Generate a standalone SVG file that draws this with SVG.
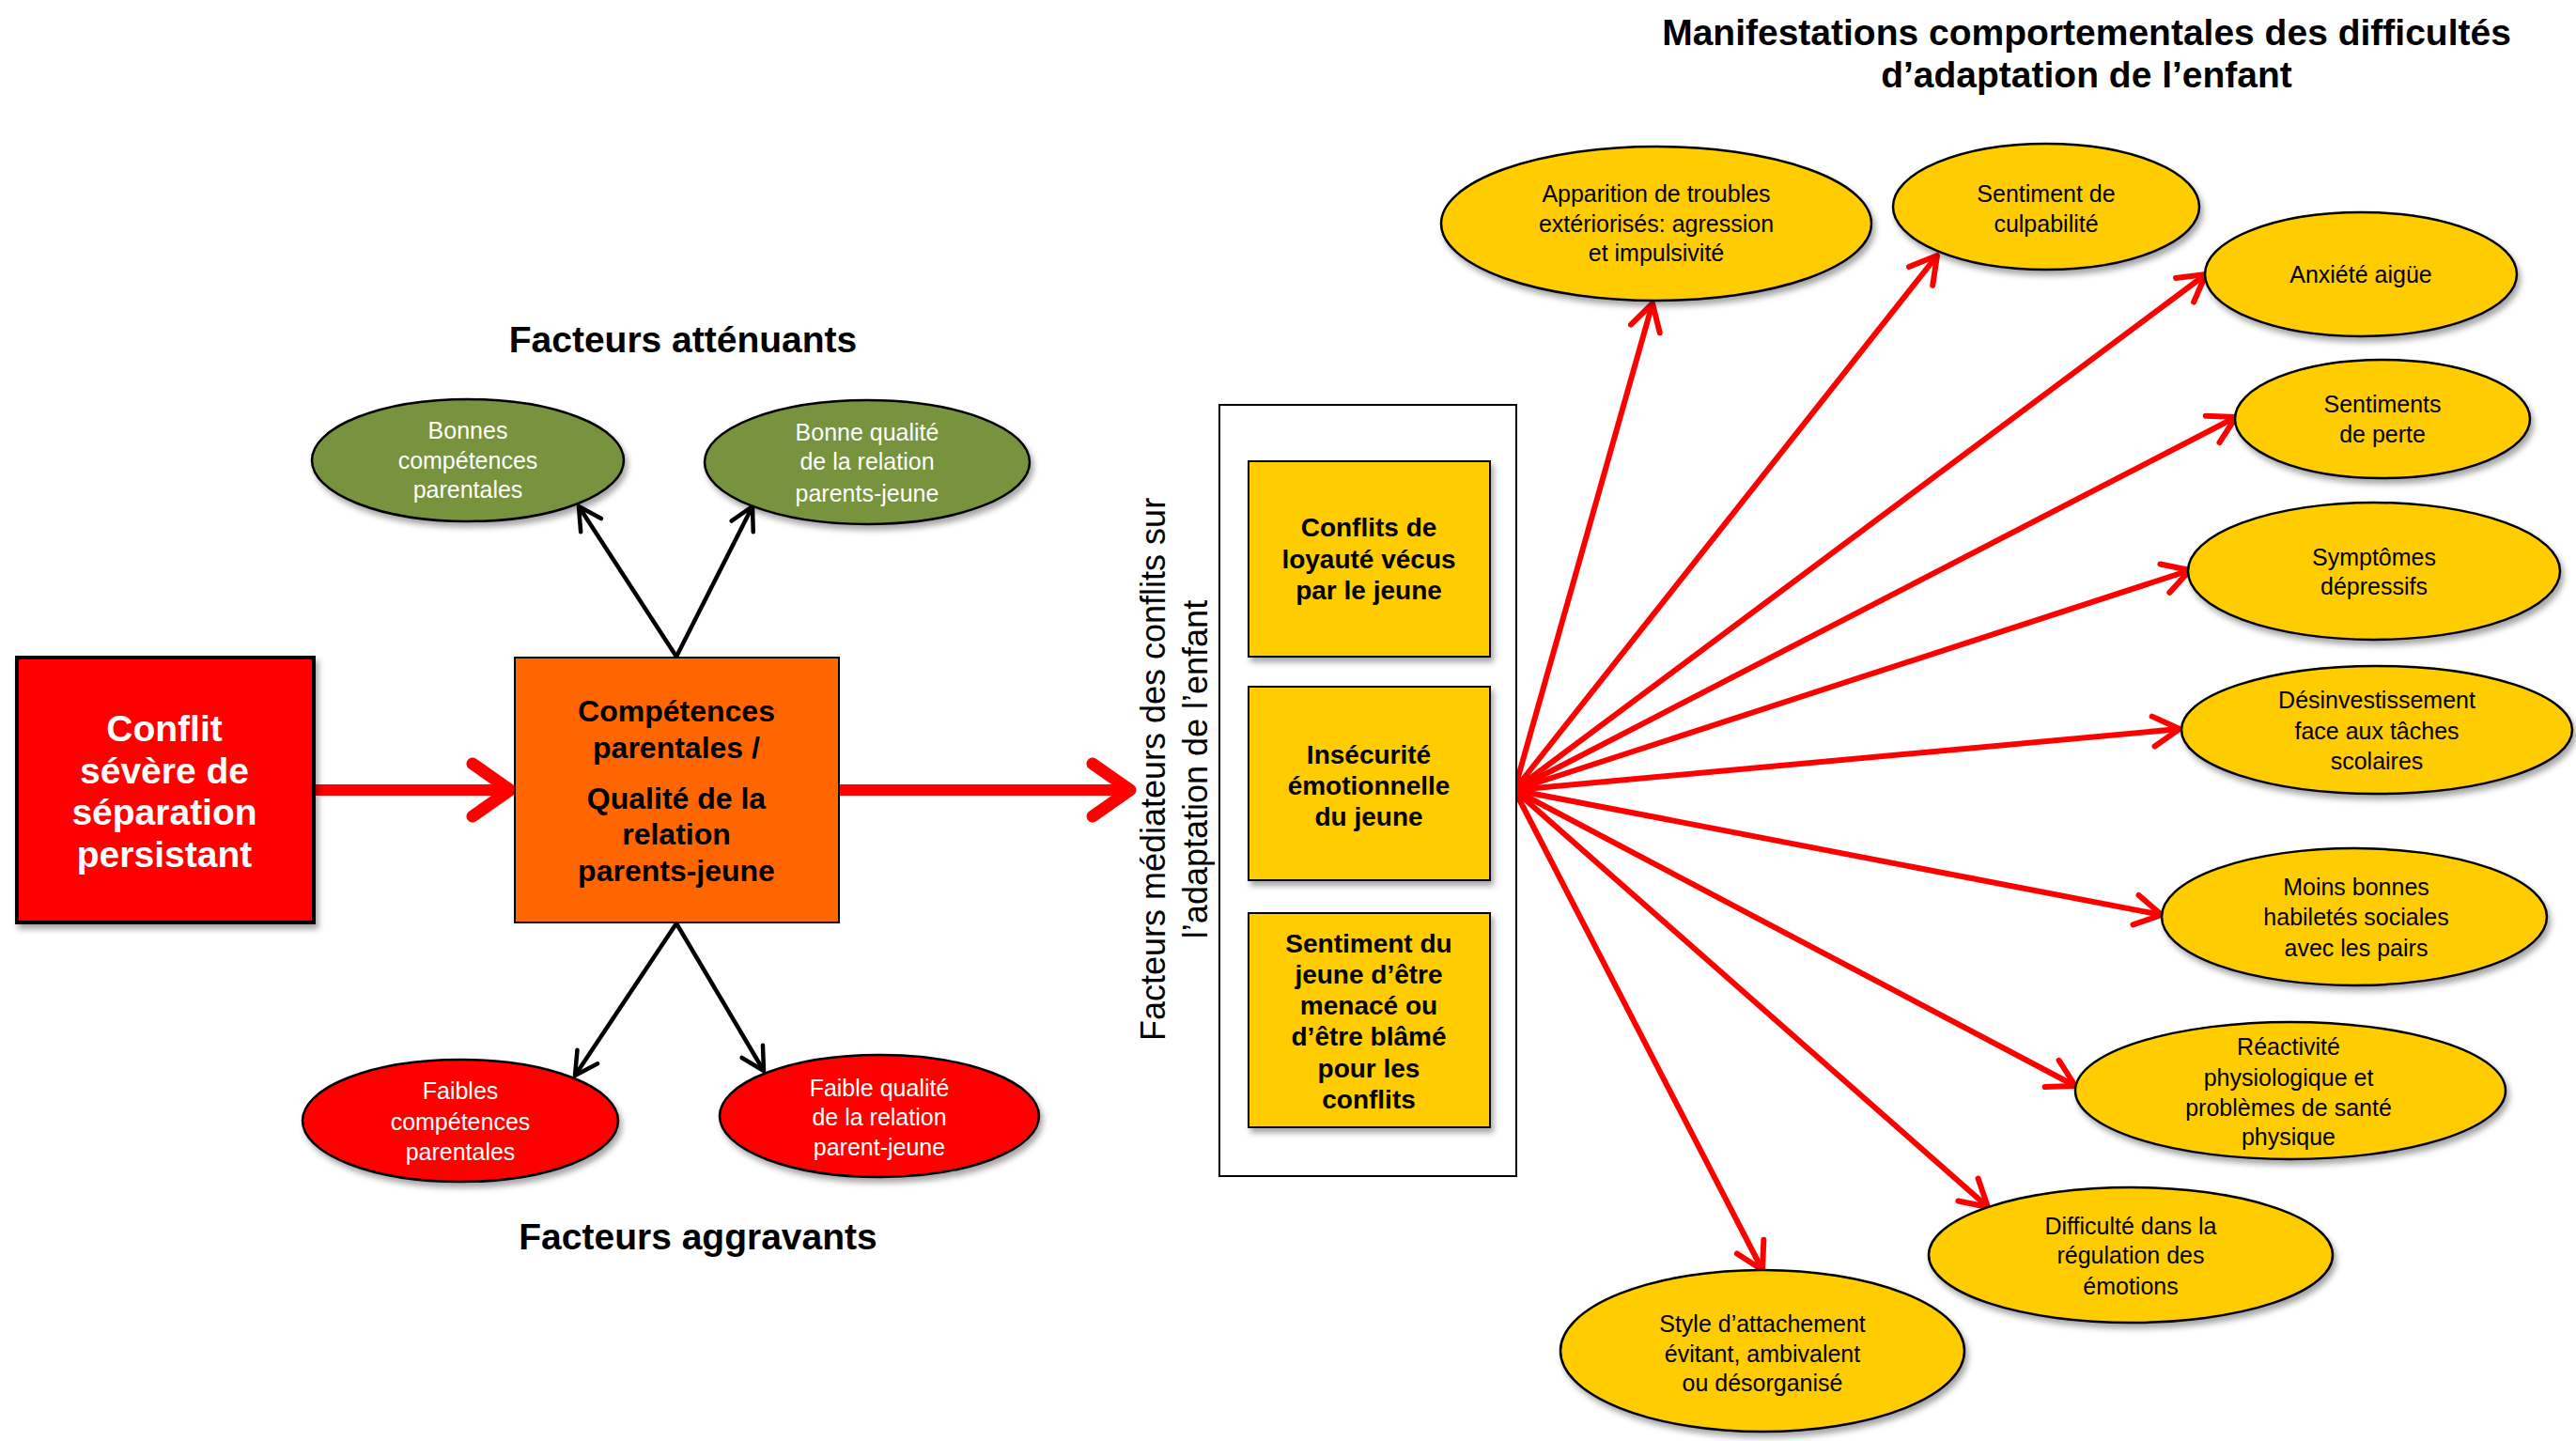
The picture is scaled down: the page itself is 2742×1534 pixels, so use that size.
<svg xmlns="http://www.w3.org/2000/svg" width="2742" height="1534" viewBox="0 0 2742 1534">
<defs>
<filter id="sh" x="-20%" y="-20%" width="140%" height="140%">
<feDropShadow dx="3" dy="5" stdDeviation="3" flood-color="#000" flood-opacity="0.35"/>
</filter>
<marker id="ahBig" markerUnits="userSpaceOnUse" markerWidth="80" markerHeight="80" viewBox="-60 -40 80 80" refX="0" refY="0" orient="auto" overflow="visible">
<path d="M-40,-28 L0,0 L-40,28" fill="none" stroke="#FF0000" stroke-width="13" stroke-linecap="round" stroke-linejoin="round"/>
</marker>
<marker id="ahRed" markerUnits="userSpaceOnUse" markerWidth="60" markerHeight="60" viewBox="-40 -30 60 60" refX="0" refY="0" orient="auto" overflow="visible">
<path d="M-28,-16 L0,0 L-28,16" fill="none" stroke="#FF0000" stroke-width="6" stroke-linecap="round" stroke-linejoin="round"/>
</marker>
<marker id="ahBlack" markerUnits="userSpaceOnUse" markerWidth="60" markerHeight="60" viewBox="-40 -30 60 60" refX="0" refY="0" orient="auto" overflow="visible">
<path d="M-24,-13 L0,0 L-24,13" fill="none" stroke="#000" stroke-width="4.5" stroke-linecap="round" stroke-linejoin="round"/>
</marker>
</defs>
<style>
text{font-family:"Liberation Sans",Arial,sans-serif;text-anchor:middle;}
.h{font-size:39px;font-weight:bold;fill:#000;}
.e{font-size:25px;fill:#000;}
.ew{font-size:25px;fill:#fff;}
.yb{font-size:28px;font-weight:bold;fill:#000;}
.ye{fill:#FFCC00;stroke:#000;stroke-width:2.5;}
.fan{stroke:#FF0000;stroke-width:6;fill:none;marker-end:url(#ahRed);}
.blk{stroke:#000;stroke-width:4.5;fill:none;marker-end:url(#ahBlack);}
.big{stroke:#FF0000;stroke-width:12;fill:none;marker-end:url(#ahBig);}
</style>
<rect width="2742" height="1534" fill="#fff"/>

<g id="titles">
<text class="h" x="2221" y="48">Manifestations comportementales des difficultés</text>
<text class="h" x="2221" y="93">d’adaptation de l’enfant</text>
<text class="h" x="727" y="375">Facteurs atténuants</text>
<text class="h" x="743" y="1330">Facteurs aggravants</text>
</g>

<g id="connectors">
<line class="big" x1="334" y1="841" x2="543" y2="841"/>
<line class="big" x1="894" y1="841" x2="1203" y2="841"/>
<line class="blk" x1="720" y1="699" x2="616" y2="539"/>
<line class="blk" x1="720" y1="699" x2="801" y2="539"/>
<line class="blk" x1="720" y1="983" x2="612" y2="1145"/>
<line class="blk" x1="720" y1="983" x2="813" y2="1140"/>
<line class="fan" x1="1612" y1="841" x2="1759" y2="323"/>
<line class="fan" x1="1612" y1="841" x2="2062" y2="272"/>
<line class="fan" x1="1612" y1="841" x2="2348" y2="292"/>
<line class="fan" x1="1612" y1="841" x2="2380" y2="444"/>
<line class="fan" x1="1612" y1="841" x2="2331" y2="607"/>
<line class="fan" x1="1612" y1="841" x2="2320" y2="776"/>
<line class="fan" x1="1612" y1="841" x2="2301" y2="974"/>
<line class="fan" x1="1612" y1="841" x2="2209" y2="1156"/>
<line class="fan" x1="1612" y1="841" x2="2116" y2="1285"/>
<line class="fan" x1="1612" y1="841" x2="1876" y2="1352"/>
</g>

<g id="conflit">
<rect x="18" y="700" width="316" height="282" fill="#FF0000" stroke="#000" stroke-width="4" filter="url(#sh)"/>
<text font-size="39" font-weight="bold" fill="#fff"><tspan x="175" y="789">Conflit</tspan><tspan x="175" y="834">sévère de</tspan><tspan x="175" y="878">séparation</tspan><tspan x="175" y="923">persistant</tspan></text>
</g>

<g id="competences">
<rect x="548" y="700" width="345" height="282" fill="#FF6600" stroke="#000" stroke-width="2"/>
<text font-size="32" font-weight="bold" fill="#000"><tspan x="720" y="768">Compétences</tspan><tspan x="720" y="807">parentales /</tspan><tspan x="720" y="861">Qualité de la</tspan><tspan x="720" y="899">relation</tspan><tspan x="720" y="938">parents-jeune</tspan></text>
</g>

<g id="bonnes-competences">
<ellipse cx="498" cy="490" rx="166" ry="65" fill="#77933C" stroke="#000" stroke-width="2.5" filter="url(#sh)"/>
<text class="ew"><tspan x="498" y="467">Bonnes</tspan><tspan x="498" y="499">compétences</tspan><tspan x="498" y="530">parentales</tspan></text>
</g>
<g id="bonne-qualite">
<ellipse cx="923" cy="492" rx="173" ry="66" fill="#77933C" stroke="#000" stroke-width="2.5" filter="url(#sh)"/>
<text class="ew"><tspan x="923" y="469">Bonne qualité</tspan><tspan x="923" y="500">de la relation</tspan><tspan x="923" y="534">parents-jeune</tspan></text>
</g>
<g id="faibles-competences">
<ellipse cx="490" cy="1193" rx="168" ry="65" fill="#FF0000" stroke="#000" stroke-width="2.5" filter="url(#sh)"/>
<text class="ew"><tspan x="490" y="1170">Faibles</tspan><tspan x="490" y="1203">compétences</tspan><tspan x="490" y="1235">parentales</tspan></text>
</g>
<g id="faible-qualite">
<ellipse cx="936" cy="1188" rx="170" ry="65" fill="#FF0000" stroke="#000" stroke-width="2.5" filter="url(#sh)"/>
<text class="ew"><tspan x="936" y="1167">Faible qualité</tspan><tspan x="936" y="1198">de la relation</tspan><tspan x="936" y="1230">parent-jeune</tspan></text>
</g>

<g id="mediateurs">
<text font-size="36" fill="#000" transform="translate(1240,819) rotate(-90)" x="0" y="0">Facteurs médiateurs des conflits sur</text>
<text font-size="36" fill="#000" transform="translate(1285,819) rotate(-90)" x="0" y="0">l’adaptation de l’enfant</text>
<rect x="1298" y="431" width="316" height="821" fill="#fff" stroke="#000" stroke-width="2"/>
</g>
<g id="loyaute">
<rect x="1329" y="491" width="257" height="208" fill="#FFCC00" stroke="#000" stroke-width="2" filter="url(#sh)"/>
<text class="yb"><tspan x="1457" y="571">Conflits de</tspan><tspan x="1457" y="605">loyauté vécus</tspan><tspan x="1457" y="638">par le jeune</tspan></text>
</g>
<g id="insecurite">
<rect x="1329" y="731" width="257" height="206" fill="#FFCC00" stroke="#000" stroke-width="2" filter="url(#sh)"/>
<text class="yb"><tspan x="1457" y="813">Insécurité</tspan><tspan x="1457" y="846">émotionnelle</tspan><tspan x="1457" y="879">du jeune</tspan></text>
</g>
<g id="menace">
<rect x="1329" y="972" width="257" height="228" fill="#FFCC00" stroke="#000" stroke-width="2" filter="url(#sh)"/>
<text class="yb"><tspan x="1457" y="1014">Sentiment du</tspan><tspan x="1457" y="1047">jeune d’être</tspan><tspan x="1457" y="1080">menacé ou</tspan><tspan x="1457" y="1113">d’être blâmé</tspan><tspan x="1457" y="1147">pour les</tspan><tspan x="1457" y="1180">conflits</tspan></text>
</g>

<g id="troubles">
<ellipse class="ye" cx="1763" cy="238" rx="229" ry="82" filter="url(#sh)"/>
<text class="e"><tspan x="1763" y="215">Apparition de troubles</tspan><tspan x="1763" y="247">extériorisés: agression</tspan><tspan x="1763" y="278">et impulsivité</tspan></text>
</g>
<g id="culpabilite">
<ellipse class="ye" cx="2178" cy="220" rx="163" ry="67" filter="url(#sh)"/>
<text class="e"><tspan x="2178" y="215">Sentiment de</tspan><tspan x="2178" y="247">culpabilité</tspan></text>
</g>
<g id="anxiete">
<ellipse class="ye" cx="2513" cy="292" rx="166" ry="66" filter="url(#sh)"/>
<text class="e" x="2513" y="301">Anxiété aigüe</text>
</g>
<g id="perte">
<ellipse class="ye" cx="2536" cy="446" rx="157" ry="63" filter="url(#sh)"/>
<text class="e"><tspan x="2536" y="439">Sentiments</tspan><tspan x="2536" y="471">de perte</tspan></text>
</g>
<g id="depressifs">
<ellipse class="ye" cx="2527" cy="608" rx="198" ry="73" filter="url(#sh)"/>
<text class="e"><tspan x="2527" y="602">Symptômes</tspan><tspan x="2527" y="633">dépressifs</tspan></text>
</g>
<g id="desinvestissement">
<ellipse class="ye" cx="2530" cy="777" rx="208" ry="68" filter="url(#sh)"/>
<text class="e"><tspan x="2530" y="754">Désinvestissement</tspan><tspan x="2530" y="787">face aux tâches</tspan><tspan x="2530" y="819">scolaires</tspan></text>
</g>
<g id="habiletes">
<ellipse class="ye" cx="2506" cy="976" rx="205" ry="73" filter="url(#sh)"/>
<text class="e"><tspan x="2508" y="953">Moins bonnes</tspan><tspan x="2508" y="985">habiletés sociales</tspan><tspan x="2508" y="1018">avec les pairs</tspan></text>
</g>
<g id="reactivite">
<ellipse class="ye" cx="2438" cy="1161" rx="229" ry="73" filter="url(#sh)"/>
<text class="e"><tspan x="2436" y="1123">Réactivité</tspan><tspan x="2436" y="1156">physiologique et</tspan><tspan x="2436" y="1188">problèmes de santé</tspan><tspan x="2436" y="1219">physique</tspan></text>
</g>
<g id="regulation">
<ellipse class="ye" cx="2268" cy="1336" rx="215" ry="72" filter="url(#sh)"/>
<text class="e"><tspan x="2268" y="1314">Difficulté dans la</tspan><tspan x="2268" y="1345">régulation des</tspan><tspan x="2268" y="1378">émotions</tspan></text>
</g>
<g id="attachement">
<ellipse class="ye" cx="1876" cy="1438" rx="215" ry="86" filter="url(#sh)"/>
<text class="e"><tspan x="1876" y="1418">Style d’attachement</tspan><tspan x="1876" y="1450">évitant, ambivalent</tspan><tspan x="1876" y="1481">ou désorganisé</tspan></text>
</g>
</svg>
